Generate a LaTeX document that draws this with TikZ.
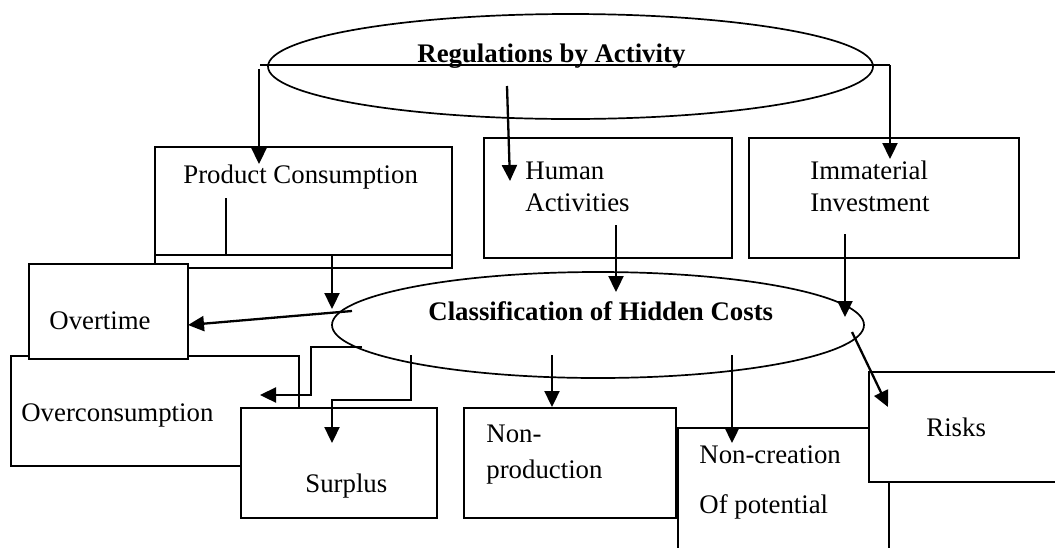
\documentclass[tikz,border=0pt]{standalone}
\usepackage{fontspec}
\setmainfont{Liberation Serif}
\usetikzlibrary{shapes.geometric,fit,arrows.meta}
\tikzset{
  box/.style={draw, line width=1pt, fill=white, inner sep=0pt, rectangle},
  oval/.style={draw, ellipse, line width=0.85pt, inner sep=0pt},
  lbl/.style={anchor=base west, inner sep=0pt, font=\fontsize{13.4}{16}\selectfont},
  blbl/.style={anchor=base west, inner sep=0pt, font=\fontsize{13.4}{16}\selectfont\bfseries},
  conn/.style={line width=1.15pt},
  arr/.style={conn, -{Triangle[length=8pt,width=7.5pt]}},
}
\begin{document}
\begin{tikzpicture}[x=0.5pt,y=-0.5pt]
\useasboundingbox (0,0) rectangle (1055,547);
\clip (0,0) rectangle (1055,547);
% boxes
\node[box, fit={(155,147) (452,268)}] (prod) {};
\draw[line width=1pt] (155,255) -- (452,255);
\node[box, fit={(484,138) (732,258)}] (hum) {};
\node[box, fit={(749,138) (1019,258)}] (imm) {};
\node[box, fit={(11,356) (299,466)}] (ovc) {};
\node[box, fit={(29,264) (188,359)}] (ovt) {};
\node[box, fit={(241,408) (437,518)}] (sur) {};
\node[box, fit={(464,408) (676,518)}] (nonp) {};
\node[box, fit={(678,428) (889,570)}] (nonc) {};
\node[box, fit={(869,372) (1070,482)}] (risk) {};
% ellipses
\node[oval, minimum width=302.5pt, minimum height=52.5pt] (reg) at (570.5,66.5) {};
\node[oval, minimum width=266pt, minimum height=53pt] (cls) at (598,325) {};
% texts
\node[blbl] (regt) at (417,62) {Regulations by Activity};
\node[blbl] (clst) at (428,320) {Classification of Hidden Costs};
\node[lbl] (prodt) at (183,183) {Product Consumption};
\node[lbl] (humt1) at (525,179) {Human};
\node[lbl] (humt2) at (525,211) {Activities};
\node[lbl] (immt1) at (810,179) {Immaterial};
\node[lbl] (immt2) at (810,211) {Investment};
\node[lbl] (ovtt) at (49,329) {Overtime};
\node[lbl] (ovct) at (21,421) {Overconsumption};
\node[lbl] (surt) at (305,492) {Surplus};
\node[lbl] (nonpt1) at (486,442) {Non-};
\node[lbl] (nonpt2) at (486,478) {production};
\node[lbl] (nonct1) at (699,463) {Non-creation};
\node[lbl] (nonct2) at (699,513) {Of potential};
\node[lbl] (riskt) at (926,436) {Risks};
% connector coordinates
\coordinate (tl) at (260,65);
\coordinate (tr) at (890,65);
\coordinate (trd) at (890,159);
\coordinate (tls) at (259,69);
\coordinate (tld) at (259,164);
\coordinate (ms) at (507,86);
\coordinate (md) at (510,181);
\coordinate (ps) at (226,198);
\coordinate (pd) at (332,309);
\coordinate (hs) at (616,225);
\coordinate (hd) at (616,292);
\coordinate (is) at (845,234);
\coordinate (id) at (845,317);
\coordinate (os) at (352,311);
\coordinate (od) at (188,325);
\coordinate (cs) at (362,347);
\coordinate (cd) at (260,395);
\coordinate (ss) at (411,355);
\coordinate (sd) at (332,443);
\coordinate (nps) at (552,355);
\coordinate (npd) at (552,407);
\coordinate (ncs) at (732,355);
\coordinate (ncd) at (732,443);
\coordinate (rs) at (852,332);
\coordinate (rd) at (888,407);
% connectors
\draw[conn] (tl) -- (tr);
\draw[arr] (tr) -- (trd);
\draw[arr] (tls) -- (tld);
\draw[arr] (ms) -- (md);
\draw[arr] (ps) |- (pd |- 0,255) -- (pd);
\draw[arr] (hs) -- (hd);
\draw[arr] (is) -- (id);
\draw[arr] (os) -- (od);
\draw[arr] (cs) -- (311,347) -- (311,395) -- (cd);
\draw[arr] (ss) -- (411,400) -- (332,400) -- (sd);
\draw[arr] (nps) -- (npd);
\draw[arr] (ncs) -- (ncd);
\draw[arr] (rs) -- (rd);
\end{tikzpicture}
\end{document}
